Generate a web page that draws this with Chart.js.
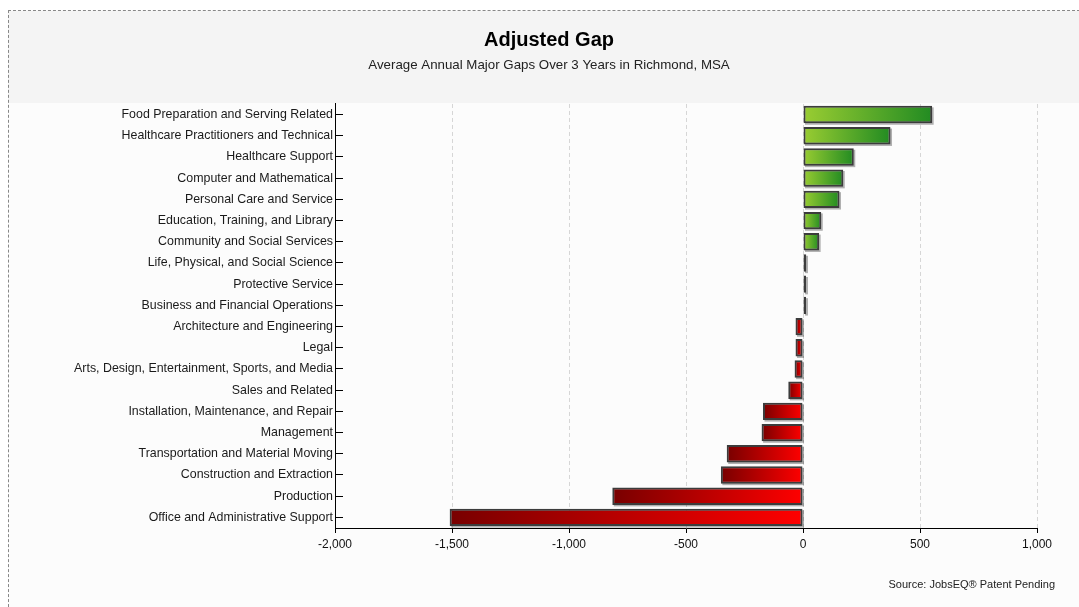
<!DOCTYPE html>
<html lang="en">
<head>
    <meta charset="UTF-8">
    <title>Adjusted Gap</title>
    <script src="https://cdn.jsdelivr.net/npm/chart.js"></script>
    <style>
        body {
            margin: 0;
            background: #fff;
            font-family: "Liberation Sans", Arial, sans-serif;
            overflow: hidden;
        }
        .frame {
            position: absolute;
            left: 8px;
            top: 10px;
            width: 1100px;
            height: 620px;
            border: 1px dashed #888;
            background: linear-gradient(#f4f4f4 0, #f4f4f4 92px, #fcfcfc 92px);
        }
        .chart-box {
            position: absolute;
            left: 0;
            top: 0;
            width: 1079px;
            height: 607px;
        }
        .source {
            position: absolute;
            right: 24px;
            top: 578px;
            font-size: 11px;
            color: #222;
        }
    </style>
</head>
<body>
    <div class="frame"></div>
    <div class="chart-box">
        <canvas id="gapChart"></canvas>
    </div>
    <div class="source">Source: JobsEQ® Patent Pending</div>

    <script>
        const categories = [
            'Food Preparation and Serving Related',
            'Healthcare Practitioners and Technical',
            'Healthcare Support',
            'Computer and Mathematical',
            'Personal Care and Service',
            'Education, Training, and Library',
            'Community and Social Services',
            'Life, Physical, and Social Science',
            'Protective Service',
            'Business and Financial Operations',
            'Architecture and Engineering',
            'Legal',
            'Arts, Design, Entertainment, Sports, and Media',
            'Sales and Related',
            'Installation, Maintenance, and Repair',
            'Management',
            'Transportation and Material Moving',
            'Construction and Extraction',
            'Production',
            'Office and Administrative Support'
        ];
        const gaps = [552, 374, 217, 172, 156, 78, 69, 14, 6, 5,
                      -32, -32, -36, -63, -171, -177, -326, -351, -815, -1510];
        const xTicks = [-2000, -1500, -1000, -500, 0, 500, 1000];

        // each bar gets its own left-to-right gradient
        function barFill(ctx) {
            const chart = ctx.chart;
            if (!chart.chartArea || ctx.type !== 'data') return '#888';
            const v = ctx.raw;
            const x = chart.scales.x;
            const p0 = x.getPixelForValue(0);
            const p1 = x.getPixelForValue(v);
            const g = chart.ctx.createLinearGradient(Math.min(p0, p1), 0, Math.max(p0, p1) + 0.01, 0);
            if (v >= 0) {
                g.addColorStop(0, '#9acd32');
                g.addColorStop(1, '#228b22');
            } else {
                g.addColorStop(0, '#780000');
                g.addColorStop(1, '#ff0000');
            }
            return g;
        }

        const barShadow = {
            id: 'barShadow',
            beforeDatasetsDraw(chart) {
                const c = chart.ctx;
                c.save();
                c.fillStyle = 'rgba(0,0,0,0.3)';
                chart.getDatasetMeta(0).data.forEach(bar => {
                    const { x, y, base, height } = bar.getProps(['x', 'y', 'base', 'height']);
                    const left = Math.min(x, base);
                    const w = Math.max(Math.abs(x - base), 3);
                    c.fillRect(left + 1.5, y - height / 2 + 1.5, w, height);
                });
                c.restore();
            }
        };

        const ctx = document.getElementById('gapChart').getContext('2d');
        new Chart(ctx, {
            type: 'bar',
            data: {
                labels: categories,
                datasets: [{
                    label: 'Adjusted Gap',
                    data: gaps,
                    backgroundColor: barFill,
                    borderColor: '#3c3c3c',
                    borderWidth: 2,
                    borderSkipped: false,
                    minBarLength: 3,
                    barPercentage: 0.82,
                    categoryPercentage: 1.0
                }]
            },
            plugins: [barShadow],
            options: {
                indexAxis: 'y',
                responsive: true,
                maintainAspectRatio: false,
                animation: false,
                layout: {
                    padding: { left: 61, right: 42, top: 0, bottom: 0 }
                },
                plugins: {
                    legend: { display: false },
                    tooltip: { enabled: false },
                    title: {
                        display: true,
                        text: 'Adjusted Gap',
                        color: '#000',
                        font: { family: 'Liberation Sans, Arial', size: 20, weight: 'bold' },
                        padding: { top: 28, bottom: 0 }
                    },
                    subtitle: {
                        display: true,
                        text: 'Average Annual Major Gaps Over 3 Years in Richmond, MSA',
                        color: '#222',
                        font: { family: 'Liberation Sans, Arial', size: 13.3 },
                        padding: { top: 5, bottom: 31 }
                    }
                },
                scales: {
                    x: {
                        min: -2000,
                        max: 1000,
                        afterBuildTicks: scale => {
                            scale.ticks = xTicks.map(v => ({ value: v }));
                        },
                        afterFit: scale => { scale.height = 79; },
                        ticks: {
                            color: '#111',
                            padding: 4,
                            font: { family: 'Liberation Sans, Arial', size: 12 },
                            callback: v => v.toLocaleString('en-US')
                        },
                        grid: {
                            color: '#d6d6d6',
                            tickColor: '#000',
                            tickLength: 5
                        },
                        border: { color: '#000', width: 1, dash: [4, 3] }
                    },
                    y: {
                        afterFit: scale => { scale.width = 274; },
                        ticks: {
                            color: '#1a1a1a',
                            padding: 10,
                            autoSkip: false,
                            font: { family: 'Liberation Sans, Arial', size: 12.4 }
                        },
                        grid: {
                            offset: false,
                            drawOnChartArea: false,
                            color: '#000',
                            tickLength: -8
                        },
                        border: { color: '#000', width: 1 }
                    }
                }
            }
        });
    </script>
</body>
</html>
